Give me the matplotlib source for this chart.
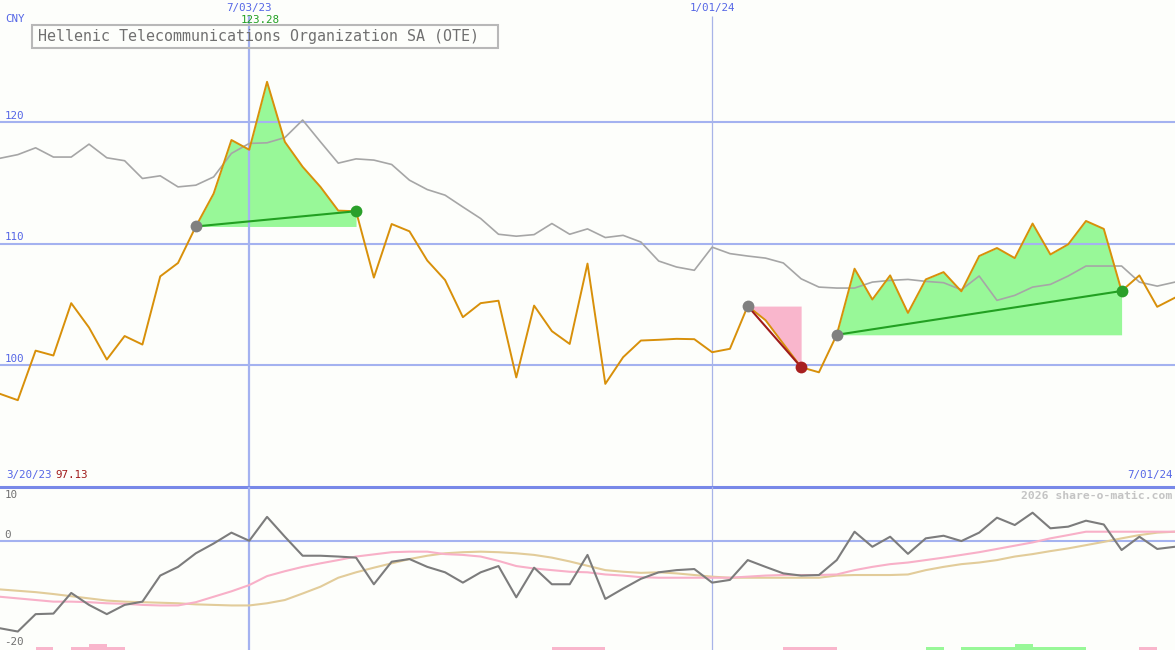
import matplotlib
matplotlib.use("Agg")
import matplotlib.pyplot as plt
import matplotlib.patches as patches
import numpy as np

# weekly closes (CNY), index 0 = first week shown
price = [97.65, 97.13, 101.2, 100.8, 105.1, 103.1, 100.47, 102.4, 101.7, 107.3,
         108.4, 111.4, 114.1, 118.5, 117.7, 123.28, 118.35, 116.3, 114.65, 112.7,
         112.65, 107.2, 111.6, 111.0, 108.6, 107.0, 103.95, 105.1, 105.3, 99.0,
         104.9, 102.8, 101.75, 108.35, 98.47, 100.66, 102.03, 102.09, 102.17, 102.14,
         101.07, 101.35, 104.86, 103.7, 101.76, 99.84, 99.42, 102.5, 107.93, 105.4,
         107.38, 104.3, 107.05, 107.65, 106.07, 108.97, 109.63, 108.8, 111.64, 109.1,
         109.93, 111.85, 111.2, 106.1, 107.38, 104.8, 105.55]

# moving average (gray)
ma = [117.0, 117.3, 117.86, 117.1, 117.1, 118.16, 117.04, 116.8, 115.34, 115.56,
      114.65, 114.79, 115.47, 117.4, 118.22, 118.27, 118.7, 120.14, 118.35, 116.6,
      116.95, 116.85, 116.49, 115.2, 114.43, 113.97, 113.0, 112.05, 110.76, 110.6,
      110.73, 111.64, 110.76, 111.2, 110.49, 110.67, 110.12, 108.56, 108.07, 107.8,
      109.7, 109.17, 108.97, 108.8, 108.4, 107.1, 106.42, 106.34, 106.34, 106.83,
      106.97, 107.05, 106.89, 106.78, 106.2, 107.33, 105.33, 105.74, 106.42, 106.64,
      107.33, 108.15, 108.15, 108.15, 106.83, 106.5, 106.83]

# lower panel oscillator and its two smoothings
osc = [-16.0, -16.6, -13.4, -13.3, -9.5, -11.7, -13.4, -11.7, -11.1, -6.3,
       -4.7, -2.2, -0.4, 1.6, 0.1, 4.5, 0.85, -2.65, -2.65, -2.8,
       -3.0, -7.9, -3.75, -3.26, -4.7, -5.7, -7.6, -5.7, -4.55, -10.3,
       -4.85, -7.9, -7.9, -2.5, -10.6, -8.7, -6.9, -5.7, -5.3, -5.1,
       -7.6, -7.1, -3.45, -4.7, -5.9, -6.3, -6.2, -3.45, 1.77, -1.0,
       0.85, -2.3, 0.55, 1.03, 0.05, 1.6, 4.35, 3.0, 5.27, 2.4,
       2.7, 3.8, 3.1, -1.6, 0.85, -1.4, -1.0]

osc_fast = [-10.2, -10.5, -10.8, -11.1, -11.1, -11.2, -11.4, -11.5, -11.7, -11.8,
            -11.8, -11.2, -10.2, -9.2, -8.05, -6.4, -5.5, -4.7, -4.05, -3.45,
            -2.8, -2.4, -2.0, -1.9, -1.9, -2.35, -2.5, -2.8, -3.6, -4.55,
            -5.0, -5.3, -5.6, -5.7, -6.1, -6.3, -6.6, -6.7, -6.7, -6.7,
            -6.7, -6.7, -6.5, -6.3, -6.2, -6.2, -6.2, -6.1, -5.3, -4.7,
            -4.2, -3.9, -3.45, -3.0, -2.5, -2.0, -1.4, -0.8, -0.2, 0.55,
            1.15, 1.77, 1.77, 1.77, 1.77, 1.77, 1.77]

osc_slow = [-8.85, -9.1, -9.35, -9.7, -10.1, -10.5, -10.9, -11.1, -11.2, -11.3,
            -11.4, -11.6, -11.7, -11.8, -11.8, -11.4, -10.8, -9.6, -8.35, -6.7,
            -5.7, -4.85, -4.05, -3.26, -2.65, -2.2, -2.0, -1.9, -2.0, -2.2,
            -2.5, -3.0, -3.7, -4.5, -5.3, -5.6, -5.8, -5.7, -5.9, -6.2,
            -6.5, -6.7, -6.7, -6.7, -6.7, -6.7, -6.7, -6.3, -6.2, -6.2,
            -6.2, -6.1, -5.3, -4.7, -4.2, -3.9, -3.45, -2.8, -2.35, -1.8,
            -1.3, -0.7, -0.1, 0.55, 1.15, 1.6, 1.77]

# weekly signal strip at the bottom (+ buy, - sell)
signal = [0, 0, -1, 0, -1, -2, -1, 0, 0, 0,
          0, 0, 0, 0, 0, 0, 0, 0, 0, 0,
          0, 0, 0, 0, 0, 0, 0, 0, 0, 0,
          0, -1, -1, -1, 0, 0, 0, 0, 0, 0,
          0, 0, 0, 0, -1, -1, -1, 0, 0, 0,
          0, 0, 1, 0, 1, 1, 1, 2, 1, 1,
          1, 0, 0, 0, -1, 0, 0]

# swings: start / end week index
swing_start = [11, 42, 47]
swing_end = [20, 45, 63]

price_levels = [100, 110, 120]
date_marks = [14, 40]
date_labels = ["7/03/23", "1/01/24"]
title = "Hellenic Telecommunications Organization SA (OTE)"

BG = "#fdfefb"
GRID = "#a4b2f0"
BLUE = "#5566e6"
MONO = "DejaVu Sans Mono"

x = np.arange(len(price))
p = np.array(price)

fig = plt.figure(figsize=(11.75, 6.5), dpi=100, facecolor=BG)
split = 1 - 487 / 650
ax = fig.add_axes([0, split, 1, 1 - split])
ax2 = fig.add_axes([0, 0, 1, split])
for a in (ax, ax2):
    a.set_facecolor(BG)
    a.set_xlim(0, 66)
    a.set_axis_off()
ax.set_ylim(90, 130)
ax2.set_ylim(-20, 10)

# grid
for lv in price_levels:
    ax.axhline(lv, color=GRID, lw=1.5, zorder=2)
    ax.text(0.25, lv + 0.1, str(lv), color=BLUE, fontsize=7.8, family=MONO, va="bottom")
ax.vlines(date_marks[0], 90, 128.7, color=GRID, lw=1.6, zorder=2)
ax.vlines(date_marks[1], 90, 128.7, color="#a8b4e8", lw=0.9, zorder=2)
ax2.axvline(date_marks[0], color=GRID, lw=1.6, zorder=2)
ax2.axvline(date_marks[1], color="#a8b4e8", lw=0.9, zorder=2)
ax2.axhline(0, color=GRID, lw=1.5, zorder=2)
ax.axhline(90, color="#7888e8", lw=2.2, zorder=6, clip_on=False)

for xm, lab in zip(date_marks, date_labels):
    ax.text(xm, 129.35, lab, color=BLUE, fontsize=7.8, family=MONO, ha="center", va="center")

# swing shading
for s, e in zip(swing_start, swing_end):
    seg = slice(s, e + 1)
    up = p[e] > p[s]
    ax.fill_between(x[seg], p[seg], p[s], color="#98f898" if up else "#f9b6cc",
                    lw=0, zorder=1)

ax.plot(x, ma, color="#a6a6a6", lw=1.2, zorder=3)
ax.plot(x, p, color="#d8900a", lw=1.4, zorder=4)

for s, e in zip(swing_start, swing_end):
    up = p[e] > p[s]
    ax.plot([s, e], [p[s], p[e]], color="#22a022" if up else "#a01c1c", lw=1.5, zorder=5)
    ax.plot(s, p[s], "o", color="#808080", ms=8.5, mec="none", zorder=6)
    ax.plot(e, p[e], "o", color="#2aa02a" if up else "#a82020", ms=8.5, mec="none", zorder=6)

# labels
hi = int(np.argmax(p))
lo = int(np.argmin(p))
ax.text(hi - 0.4, 128.35, f"{p[hi]:.2f}", color="#22a022", fontsize=7.8, family=MONO,
        ha="center", va="center")
ax.text(0.3, 128.4, "CNY", color=BLUE, fontsize=7.8, family=MONO, va="center")
ax.text(0.35, 90.6, "3/20/23", color=BLUE, fontsize=7.8, family=MONO, va="bottom")
ax.text(3.1, 90.6, f"{p[lo]:.2f}", color="#a01c1c", fontsize=7.8, family=MONO, va="bottom")
ax.text(65.85, 90.6, "7/01/24", color=BLUE, fontsize=7.8, family=MONO, va="bottom", ha="right")

fig.text(38 / 1175, 1 - 36.5 / 650, title, color="#707070", fontsize=10.8, family=MONO,
         va="center")
fig.add_artist(patches.Rectangle((32 / 1175, 1 - 48 / 650), 466 / 1175, 23 / 650,
                                 transform=fig.transFigure, fill=False,
                                 ec="#b8b8b8", lw=1.5))

# lower panel
sig = np.array(signal)
ax2.bar(x, np.abs(sig) * 0.55, width=1, align="edge", bottom=-20,
        color=np.where(sig > 0, "#98f898", "#f9b6cc"), lw=0, zorder=1)
ax2.plot(x, osc_slow, color="#e2cc9a", lw=1.5, zorder=3)
ax2.plot(x, osc_fast, color="#f8b0c8", lw=1.5, zorder=3)
ax2.plot(x, osc, color="#7c7c7c", lw=1.5, zorder=4)

ax2.text(0.25, 8.6, "10", color="#707070", fontsize=7.8, family=MONO, va="center")
ax2.text(0.25, 1.1, "0", color="#707070", fontsize=7.8, family=MONO, va="center")
ax2.text(0.25, -18.6, "-20", color="#707070", fontsize=7.8, family=MONO, va="center")
ax2.text(65.85, 8.4, "2026 share-o-matic.com", color="#c4c4c4", fontsize=8.2,
         family=MONO, weight="bold", ha="right", va="center")

fig.savefig("out.png", dpi=100, facecolor=BG)
